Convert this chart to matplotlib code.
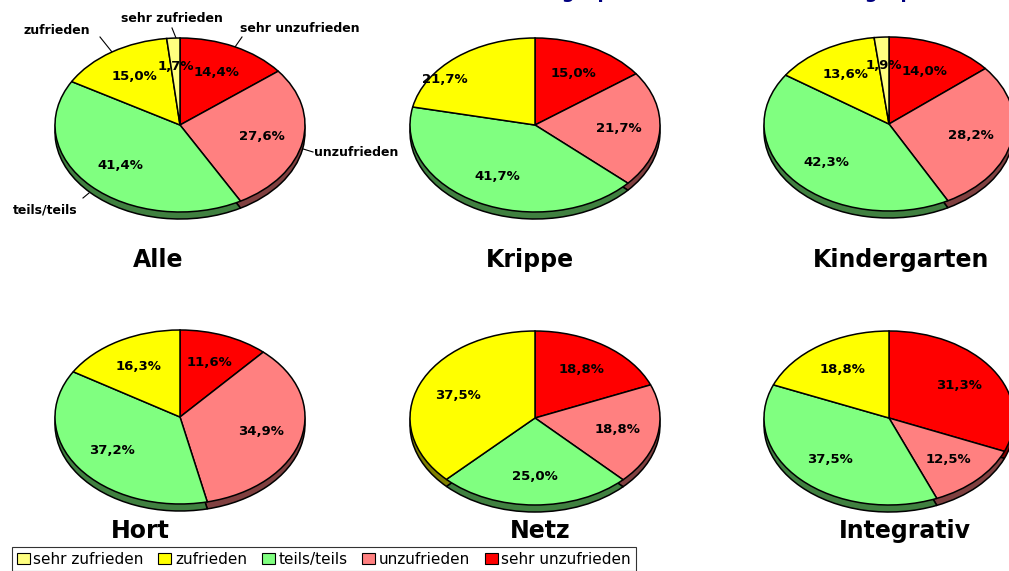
import numpy as np
import matplotlib.pyplot as plt
from matplotlib.patches import Patch

categories = ["sehr zufrieden", "zufrieden", "teils/teils", "unzufrieden", "sehr unzufrieden"]
colors = ["#FFFF80", "#FFFF00", "#80FF80", "#FF8080", "#FF0000"]
side_colors = ["#808040", "#808000", "#408040", "#804040", "#800000"]

alle = [1.7, 15.0, 41.4, 27.6, 14.4]
krippe = [0.0, 21.7, 41.7, 21.7, 15.0]
kindergarten = [1.9, 13.6, 42.3, 28.2, 14.0]
hort = [0.0, 16.3, 37.2, 34.9, 11.6]
netz = [0.0, 37.5, 25.0, 18.8, 18.8]
integrativ = [0.0, 18.8, 37.5, 12.5, 31.3]

titles = ["Alle", "Krippe", "Kindergarten", "Hort", "Netz", "Integrativ"]
groups = [alle, krippe, kindergarten, hort, netz, integrativ]

W, H = 1009, 571
fig = plt.figure(figsize=(W / 100, H / 100), dpi=100)

# background axes in pixel coordinates for titles / leader lines
bg = fig.add_axes([0, 0, 1, 1])
bg.set_xlim(0, W)
bg.set_ylim(H, 0)
bg.axis("off")

rx, ry = 125, 87
depth = 7 / ry
pad = 1.3
centers = [(180, 125), (535, 125), (889, 124), (180, 417), (535, 418), (889, 418)]
title_pos = [(158, 260), (530, 260), (901, 260), (140, 531), (540, 531), (905, 531)]
# excel moved one label by hand (Krippe, zufrieden)
label_shift = {(1, "zufrieden"): (-0.3, 0.0)}


def draw_pie(i, vals, cx, cy):
    ax = fig.add_axes([(cx - pad * rx) / W, 1 - (cy + pad * ry) / H,
                       2 * pad * rx / W, 2 * pad * ry / H])
    # clockwise from 12 o'clock: sehr unzufrieden first
    keep = [k for k in range(len(vals) - 1, -1, -1) if vals[k] > 0]
    v = [vals[k] for k in keep]
    wp = dict(edgecolor="black", linewidth=1.1)
    ax.pie(v, colors=[side_colors[k] for k in keep], startangle=90,
           counterclock=False, center=(0, -depth), wedgeprops=wp)
    wedges, _ = ax.pie(v, colors=[colors[k] for k in keep], startangle=90,
                       counterclock=False, wedgeprops=wp)
    for w, k in zip(wedges, keep):
        t = np.deg2rad((w.theta1 + w.theta2) / 2)
        dx, dy = label_shift.get((i, categories[k]), (0, 0))
        ax.text(0.67 * np.cos(t) + dx, 0.67 * np.sin(t) + dy,
                f"{vals[k]:.1f}%".replace(".", ","), ha="center", va="center",
                fontsize=9.5, fontweight="bold")
    ax.set_aspect("auto")
    ax.set_xlim(-pad, pad)
    ax.set_ylim(-pad, pad)
    ax.axis("off")


for i, (vals, (cx, cy), t, (tx, ty)) in enumerate(zip(groups, centers, titles, title_pos)):
    draw_pie(i, vals, cx, cy)
    bg.text(tx, ty, t, ha="center", va="center", fontsize=17, fontweight="bold")

# category labels with leader lines on the first pie
lab = dict(fontsize=9, fontweight="bold", va="center")
bg.text(57, 30, "zufrieden", ha="center", **lab)
bg.plot([100, 112], [37, 52], color="black", lw=0.8)
bg.text(172, 18, "sehr zufrieden", ha="center", **lab)
bg.plot([172, 176], [28, 38], color="black", lw=0.8)
bg.text(240, 29, "sehr unzufrieden", ha="left", **lab)
bg.plot([242, 235], [37, 47], color="black", lw=0.8)
bg.text(314, 152, "unzufrieden", ha="left", **lab)
bg.plot([300, 313], [148, 152], color="black", lw=0.8)
bg.text(45, 210, "teils/teils", ha="center", **lab)
bg.plot([83, 89], [198, 193], color="black", lw=0.8)

# title cut off at the top edge, only descenders show
for x0 in (501, 804):
    bg.text(x0, -2, "Elterngespräch", ha="left", va="baseline", fontsize=13,
            fontweight="bold", color="#000080")

handles = [Patch(facecolor=c, edgecolor="black", linewidth=0.8) for c in colors]
leg = fig.legend(handles, categories, ncol=5, loc="upper left",
                 bbox_to_anchor=(12 / W, 1 - 547 / H), fontsize=11,
                 frameon=True, fancybox=False, handlelength=0.85, handleheight=0.75,
                 handletextpad=0.25, columnspacing=0.95, borderpad=0.3,
                 borderaxespad=0)
leg.get_frame().set_edgecolor("black")
leg.get_frame().set_linewidth(0.8)

fig.savefig("out.png", dpi=100)
